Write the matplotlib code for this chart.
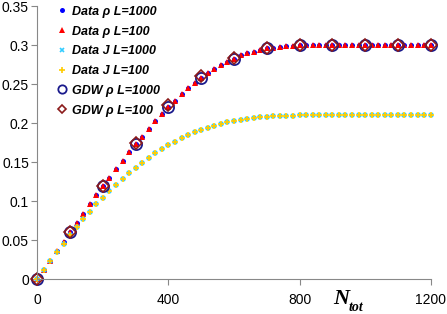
import numpy as np
import matplotlib
matplotlib.use('Agg')
import matplotlib.pyplot as plt

plt.rcParams['font.family'] = ['Liberation Sans', 'DejaVu Sans']

# data (N_tot every 20)
n_data = np.arange(0, 1220, 20)
rho_1000 = [0.000, 0.012, 0.024, 0.036, 0.048, 0.060, 0.072, 0.084, 0.096, 0.108,
            0.119, 0.130, 0.141, 0.152, 0.163, 0.173, 0.183, 0.193, 0.203, 0.212,
            0.221, 0.229, 0.237, 0.245, 0.252, 0.258, 0.264, 0.270, 0.275, 0.279,
            0.283, 0.287, 0.290, 0.292, 0.294, 0.296, 0.297, 0.298, 0.299, 0.2995,
            0.300, 0.300, 0.300, 0.300, 0.300, 0.300, 0.300, 0.300, 0.300, 0.300,
            0.300, 0.300, 0.300, 0.300, 0.300, 0.300, 0.300, 0.300, 0.300, 0.300,
            0.300]
rho_100 = [0.000, 0.012, 0.024, 0.036, 0.048, 0.060, 0.072, 0.084, 0.096, 0.108,
           0.119, 0.130, 0.141, 0.152, 0.163, 0.173, 0.183, 0.193, 0.203, 0.212,
           0.221, 0.229, 0.237, 0.245, 0.252, 0.258, 0.264, 0.270, 0.275, 0.279,
           0.283, 0.287, 0.290, 0.292, 0.294, 0.296, 0.297, 0.298, 0.299, 0.2995,
           0.300, 0.300, 0.300, 0.300, 0.300, 0.300, 0.300, 0.300, 0.300, 0.300,
           0.300, 0.300, 0.300, 0.300, 0.300, 0.300, 0.300, 0.300, 0.300, 0.300,
           0.300]
j_1000 = [0.0000, 0.0119, 0.0234, 0.0347, 0.0457, 0.0564, 0.0668, 0.0769, 0.0868, 0.0963,
          0.1048, 0.1131, 0.1211, 0.1289, 0.1364, 0.1431, 0.1495, 0.1557, 0.1618, 0.1670,
          0.1722, 0.1766, 0.1808, 0.1850, 0.1885, 0.1914, 0.1943, 0.1971, 0.1994, 0.2012,
          0.2029, 0.2046, 0.2059, 0.2067, 0.2076, 0.2084, 0.2088, 0.2092, 0.2096, 0.2098,
          0.2100, 0.2100, 0.2100, 0.2100, 0.2100, 0.2100, 0.2100, 0.2100, 0.2100, 0.2100,
          0.2100, 0.2100, 0.2100, 0.2100, 0.2100, 0.2100, 0.2100, 0.2100, 0.2100, 0.2100,
          0.2100]
j_100 = [0.0000, 0.0119, 0.0234, 0.0347, 0.0457, 0.0564, 0.0668, 0.0769, 0.0868, 0.0963,
         0.1048, 0.1131, 0.1211, 0.1289, 0.1364, 0.1431, 0.1495, 0.1557, 0.1618, 0.1670,
         0.1722, 0.1766, 0.1808, 0.1850, 0.1885, 0.1914, 0.1943, 0.1971, 0.1994, 0.2012,
         0.2029, 0.2046, 0.2059, 0.2067, 0.2076, 0.2084, 0.2088, 0.2092, 0.2096, 0.2098,
         0.2100, 0.2100, 0.2100, 0.2100, 0.2100, 0.2100, 0.2100, 0.2100, 0.2100, 0.2100,
         0.2100, 0.2100, 0.2100, 0.2100, 0.2100, 0.2100, 0.2100, 0.2100, 0.2100, 0.2100,
         0.2100]

# GDW prediction every 100
n_gdw = [0, 100, 200, 300, 400, 500, 600, 700, 800, 900, 1000, 1100, 1200]
gdw_1000 = [0.0, 0.060, 0.119, 0.173, 0.221, 0.258, 0.283, 0.296, 0.300, 0.300, 0.300, 0.300, 0.300]
gdw_100 = [0.0, 0.061, 0.120, 0.175, 0.223, 0.260, 0.284, 0.296, 0.300, 0.300, 0.300, 0.300, 0.300]

fig = plt.figure(figsize=(4.47, 3.14), dpi=100)
ax = fig.add_axes([0.0834, 0.1105, 0.88, 0.8695])

ax.plot(n_data, rho_1000, 'o', color='#0000ff', ms=3.6, mew=0, label=u'Data \u03c1 L=1000')
ax.plot(n_data, rho_100, '^', color='#ff0000', ms=4.2, mew=0, label=u'Data \u03c1 L=100')
ax.plot(n_data, j_1000, 'x', color='#33ccff', ms=3.4, mew=1.2, label='Data J L=1000')
ax.plot(n_data, j_100, '+', color='#ffcc00', ms=4.0, mew=1.2, label='Data J L=100')
ax.plot(n_gdw, gdw_1000, 'o', mfc='none', mec='#1a1a8c', ms=8, mew=1.3, label=u'GDW \u03c1 L=1000')
ax.plot(n_gdw, gdw_100, 'D', mfc='none', mec='#8b1a1a', ms=6, mew=1.2, label=u'GDW \u03c1 L=100')

ax.set_xlim(0, 1200)
ax.set_ylim(0, 0.35)
ax.set_xticks([0, 400, 800, 1200])
ax.set_yticks([0, 0.05, 0.1, 0.15, 0.2, 0.25, 0.3, 0.35])
ax.set_yticklabels(['0', '0.05', '0.1', '0.15', '0.2', '0.25', '0.3', '0.35'])
ax.tick_params(labelsize=10, length=4, color='#888888', width=0.8)
ax.tick_params(axis='y', pad=2)
ax.tick_params(axis='x', pad=6)
for s in ['top', 'right']:
    ax.spines[s].set_visible(False)
for s in ['left', 'bottom']:
    ax.spines[s].set_color('#888888')
    ax.spines[s].set_linewidth(0.8)
for p in ax.lines:
    p.set_clip_on(False)

leg = ax.legend(loc='upper left', bbox_to_anchor=(0.03, 1.02), frameon=False,
                prop={'weight': 'bold', 'style': 'italic', 'size': 9},
                handletextpad=0.25, labelspacing=0.62, handlelength=1.2,
                borderaxespad=0)
for h in leg.legend_handles[4:]:
    h.set_markersize(6)
leg.legend_handles[5].set_markersize(4.5)

fig.text(333 / 447, 1 - 304 / 314, 'N', family='Liberation Serif', weight='bold',
         style='italic', size=16, va='baseline', ha='left')
fig.text(349 / 447, 1 - 311 / 314, 'tot', family='Liberation Serif', weight='bold',
         style='italic', size=10, va='baseline', ha='left')

fig.savefig('out.png', dpi=100)
